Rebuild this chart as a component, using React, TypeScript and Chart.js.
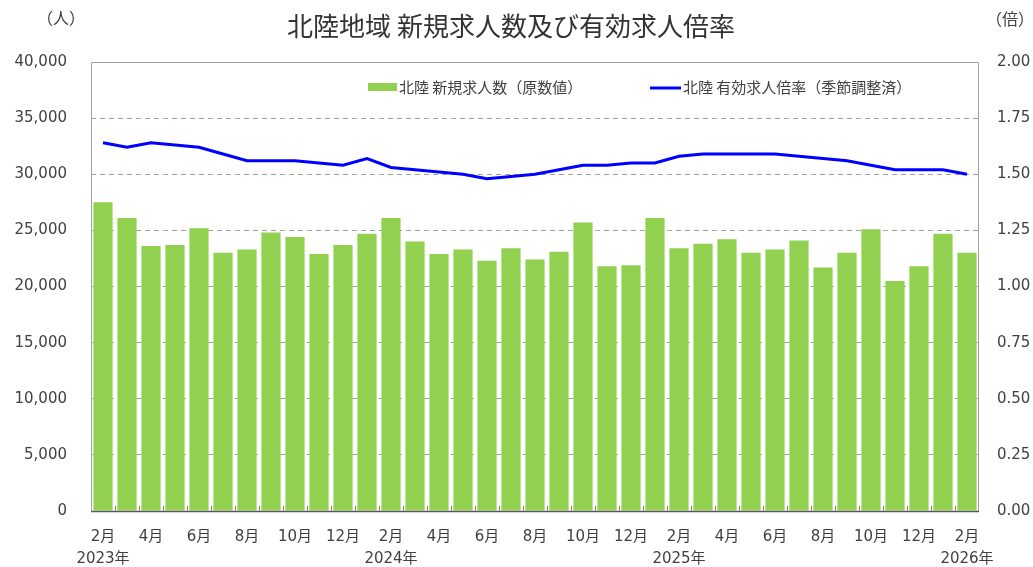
import React, { useEffect, useRef } from 'react';
import { Chart, registerables } from 'chart.js';

Chart.register(...registerables);

// ---- data ----
const categories = [
  '2023-02', '2023-03', '2023-04', '2023-05', '2023-06', '2023-07', '2023-08', '2023-09', '2023-10', '2023-11', '2023-12',
  '2024-01', '2024-02', '2024-03', '2024-04', '2024-05', '2024-06', '2024-07', '2024-08', '2024-09', '2024-10', '2024-11', '2024-12',
  '2025-01', '2025-02', '2025-03', '2025-04', '2025-05', '2025-06', '2025-07', '2025-08', '2025-09', '2025-10', '2025-11', '2025-12',
  '2026-01', '2026-02',
];

const monthTicks = [
  '2月', '', '4月', '', '6月', '', '8月', '', '10月', '', '12月', '',
  '2月', '', '4月', '', '6月', '', '8月', '', '10月', '', '12月', '',
  '2月', '', '4月', '', '6月', '', '8月', '', '10月', '', '12月', '',
  '2月',
];

const yearTicks = [
  '2023年', '', '', '', '', '', '', '', '', '', '', '',
  '2024年', '', '', '', '', '', '', '', '', '', '', '',
  '2025年', '', '', '', '', '', '', '', '', '', '', '',
  '2026年',
];

const newJobOffers = [
  27500, 26100, 23600, 23700, 25200, 23000, 23300, 24800, 24400, 22900, 23700,
  24700, 26100, 24000, 22900, 23300, 22300, 23400, 22400, 23100, 25700, 21800, 21900,
  26100, 23400, 23800, 24200, 23000, 23300, 24100, 21700, 23000, 25100, 20500, 21800,
  24700, 23000,
];

const jobOfferRatio = [
  1.64, 1.62, 1.64, 1.63, 1.62, 1.59, 1.56, 1.56, 1.56, 1.55, 1.54,
  1.57, 1.53, 1.52, 1.51, 1.50, 1.48, 1.49, 1.50, 1.52, 1.54, 1.54, 1.55,
  1.55, 1.58, 1.59, 1.59, 1.59, 1.59, 1.58, 1.57, 1.56, 1.54, 1.52, 1.52,
  1.52, 1.50,
];

const leftTicks = { min: 0, max: 40000, step: 5000 };
const rightTicks = { min: 0, max: 2, step: 0.25 };

const TITLE = '北陸地域 新規求人数及び有効求人倍率';
const BAR_LABEL = '北陸 新規求人数（原数値）';
const LINE_LABEL = '北陸 有効求人倍率（季節調整済）';
const LEFT_UNIT = '（人）';
const RIGHT_UNIT = '（倍）';

const FONT = "'DejaVu Sans', 'Noto Sans CJK JP', sans-serif";
const CJK_FONT = "'Noto Sans CJK JP', 'DejaVu Sans', sans-serif";
const TEXT = '#404040';
const GREEN = '#92D050';
const BLUE = '#0000FF';

const decorPlugin = {
  id: 'decor',
  beforeDatasetsDraw(chart: any) {
    const { ctx, chartArea } = chart;
    const { left, right, top, bottom } = chartArea;
    ctx.save();
    ctx.strokeStyle = '#a0a0a0';
    ctx.lineWidth = 1;
    ctx.setLineDash([]);
    ctx.beginPath();
    ctx.moveTo(left + 0.5, bottom);
    ctx.lineTo(left + 0.5, top + 0.5);
    ctx.lineTo(right - 0.5, top + 0.5);
    ctx.lineTo(right - 0.5, bottom);
    ctx.stroke();
    ctx.restore();
  },
  afterDatasetsDraw(chart: any) {
    const { ctx, chartArea, scales } = chart;
    const { left, right, bottom } = chartArea;
    const x = scales.x;
    ctx.save();
    ctx.strokeStyle = '#595959';
    ctx.lineWidth = 1.5;
    ctx.beginPath();
    ctx.moveTo(left, bottom + 0.5);
    ctx.lineTo(right, bottom + 0.5);
    ctx.stroke();
    ctx.strokeStyle = '#808080';
    ctx.lineWidth = 1;
    for (let i = 1; i < categories.length; i++) {
      const px = Math.round(x.getPixelForValue(i - 0.5)) + 0.5;
      ctx.beginPath();
      ctx.moveTo(px, bottom);
      ctx.lineTo(px, bottom - 5);
      ctx.stroke();
    }
    ctx.restore();
  },
  afterDraw(chart: any) {
    const { ctx, chartArea } = chart;
    ctx.save();
    ctx.fillStyle = '#333333';
    ctx.textAlign = 'center';
    ctx.textBaseline = 'middle';
    ctx.font = `26px ${CJK_FONT}`;
    ctx.fillText(TITLE, 511, 26);
    ctx.font = `16px ${CJK_FONT}`;
    ctx.fillStyle = TEXT;
    ctx.fillText(LEFT_UNIT, 61, 18);
    ctx.fillText(RIGHT_UNIT, 1010, 19);
    const ly = chartArea.top + 25;
    ctx.textAlign = 'left';
    ctx.font = `15px ${CJK_FONT}`;
    const bar = chart.data.datasets[1];
    const line = chart.data.datasets[0];
    ctx.fillStyle = bar.backgroundColor;
    ctx.fillRect(368, ly - 4, 29, 8);
    ctx.fillStyle = TEXT;
    ctx.fillText(bar.label, 399, ly);
    ctx.strokeStyle = line.borderColor;
    ctx.lineWidth = 3;
    ctx.beginPath();
    ctx.moveTo(650, ly + 1);
    ctx.lineTo(681, ly + 1);
    ctx.stroke();
    ctx.fillText(line.label, 683, ly);
    ctx.restore();
  },
};

export default function App() {
  const canvasRef = useRef<HTMLCanvasElement | null>(null);

  useEffect(() => {
    if (!canvasRef.current) return;
    const labels = monthTicks.map((m, i) => (yearTicks[i] ? [m, yearTicks[i]] : m));
    const chart = new Chart(canvasRef.current, {
      type: 'bar',
      data: {
        labels: categories,
        datasets: [
          {
            type: 'line',
            label: LINE_LABEL,
            data: jobOfferRatio,
            yAxisID: 'y2',
            borderColor: BLUE,
            backgroundColor: BLUE,
            borderWidth: 3,
            pointRadius: 0,
            tension: 0,
            order: 0,
          } as any,
          {
            type: 'bar',
            label: BAR_LABEL,
            data: newJobOffers,
            yAxisID: 'y',
            backgroundColor: GREEN,
            borderWidth: 0,
            categoryPercentage: 1,
            barPercentage: 0.8,
            order: 1,
          } as any,
        ],
      },
      options: {
        responsive: false,
        animation: false,
        layout: { padding: { top: 62, left: 0, right: 0, bottom: 0 } },
        plugins: {
          legend: { display: false },
          title: { display: false },
          tooltip: { enabled: false },
        },
        scales: {
          x: {
            type: 'category',
            offset: true,
            grid: { display: false, drawTicks: false },
            border: { display: false },
            ticks: {
              autoSkip: false,
              maxRotation: 0,
              minRotation: 0,
              padding: 15,
              color: TEXT,
              font: { family: FONT, size: 15, lineHeight: 1.47 },
              callback: (_v: any, i: number) => labels[i],
            },
            afterFit: (s: any) => {
              s.height = 56;
            },
          },
          y: {
            position: 'left',
            min: leftTicks.min,
            max: leftTicks.max,
            grid: {
              drawTicks: false,
              color: (c: any) =>
                c.tick && (c.tick.value === leftTicks.min || c.tick.value === leftTicks.max)
                  ? 'rgba(0,0,0,0)'
                  : '#a0a0a0',
              lineWidth: 1,
            },
            border: { display: false, dash: [5, 4] },
            ticks: {
              stepSize: leftTicks.step,
              padding: 24,
              color: TEXT,
              font: { family: FONT, size: 15 },
              callback: (v: any) => Number(v).toLocaleString('en-US'),
            },
            afterFit: (s: any) => {
              s.width = 91;
            },
          },
          y2: {
            position: 'right',
            min: rightTicks.min,
            max: rightTicks.max,
            grid: { drawOnChartArea: false, drawTicks: false },
            border: { display: false },
            ticks: {
              stepSize: rightTicks.step,
              padding: 18,
              color: TEXT,
              font: { family: FONT, size: 15 },
              callback: (v: any) => Number(v).toFixed(2),
            },
            afterFit: (s: any) => {
              s.width = 54;
            },
          },
        },
      },
      plugins: [decorPlugin],
    });
    return () => chart.destroy();
  }, []);

  return (
    <div style={{ position: 'absolute', left: 0, top: 0, width: 1033, height: 567, background: '#fff' }}>
      <canvas ref={canvasRef} width={1033} height={567} style={{ display: 'block' }} />
    </div>
  );
}
